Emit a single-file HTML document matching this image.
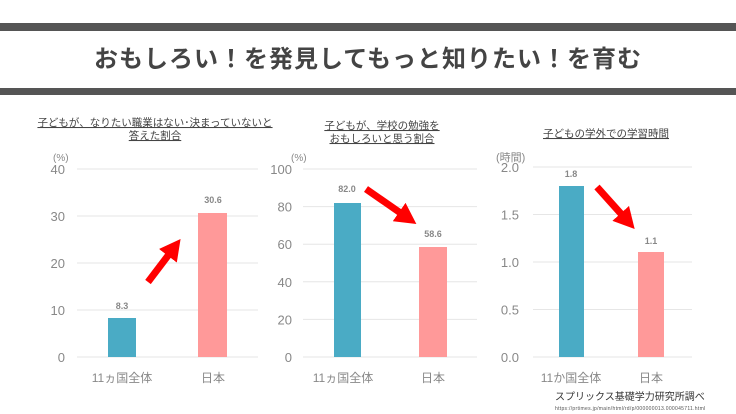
<!DOCTYPE html>
<html><head><meta charset="utf-8"><style>
html,body{margin:0;padding:0;background:#fff}
svg{display:block}
text{font-family:"Liberation Sans","Noto Sans CJK JP",sans-serif}
</style></head><body>
<svg width="736" height="414" viewBox="0 0 736 414" xmlns="http://www.w3.org/2000/svg">
<defs>
<marker id="ah" markerWidth="3" markerHeight="3.2" refX="0.5" refY="1.6" orient="auto" markerUnits="strokeWidth">
<path d="M0,0 L3,1.6 L0,3.2 Z" fill="#f00"/>
</marker>
</defs>
<rect x="0" y="23" width="736" height="8" fill="#555"/>
<rect x="0" y="88" width="736" height="7" fill="#555"/>
<text x="368" y="67" text-anchor="middle" font-size="24" font-weight="bold" fill="#444" letter-spacing="1">おもしろい！を発見してもっと知りたい！を育む</text>

<g font-size="13" fill="#888">
<!-- chart 1 -->
<g stroke="#e6e6e6" stroke-width="1">
<line x1="77" x2="258" y1="169" y2="169"/><line x1="77" x2="258" y1="216" y2="216"/><line x1="77" x2="258" y1="263" y2="263"/><line x1="77" x2="258" y1="310" y2="310"/><line x1="77" x2="258" y1="357" y2="357"/>
</g>
<g text-anchor="end"><text x="65" y="174">40</text><text x="65" y="221">30</text><text x="65" y="268">20</text><text x="65" y="315">10</text><text x="65" y="362">0</text></g>
<text x="53" y="161" font-size="10">(%)</text>
<rect x="108" y="318" width="28" height="39" fill="#4aabc5"/>
<rect x="198" y="213" width="29" height="144" fill="#ff9999"/>
<text x="122" y="309" font-size="9" text-anchor="middle" font-weight="bold">8.3</text>
<text x="213" y="203" font-size="9" text-anchor="middle" font-weight="bold">30.6</text>
<text x="122" y="382" text-anchor="middle" font-size="12">11ヵ国全体</text>
<text x="213" y="382" text-anchor="middle" font-size="12">日本</text>
<text x="155" y="126" text-anchor="middle" font-size="10.5" fill="#444" text-decoration="underline">子どもが、なりたい職業はない･決まっていないと</text>
<text x="155" y="139" text-anchor="middle" font-size="10.5" fill="#444" text-decoration="underline">答えた割合</text>
<line x1="148" y1="282" x2="170" y2="253" stroke="#f00" stroke-width="7" marker-end="url(#ah)"/>

<!-- chart 2 -->
<g stroke="#e6e6e6" stroke-width="1">
<line x1="303" x2="477" y1="169" y2="169"/><line x1="303" x2="477" y1="206.6" y2="206.6"/><line x1="303" x2="477" y1="244.2" y2="244.2"/><line x1="303" x2="477" y1="281.8" y2="281.8"/><line x1="303" x2="477" y1="319.4" y2="319.4"/><line x1="303" x2="477" y1="357" y2="357"/>
</g>
<g text-anchor="end"><text x="292" y="174">100</text><text x="292" y="211.6">80</text><text x="292" y="249.2">60</text><text x="292" y="286.8">40</text><text x="292" y="324.4">20</text><text x="292" y="362">0</text></g>
<text x="291" y="161" font-size="10">(%)</text>
<rect x="334" y="203" width="27" height="154" fill="#4aabc5"/>
<rect x="419" y="247" width="28" height="110" fill="#ff9999"/>
<text x="347" y="192" font-size="9" text-anchor="middle" font-weight="bold">82.0</text>
<text x="433" y="237" font-size="9" text-anchor="middle" font-weight="bold">58.6</text>
<text x="343" y="382" text-anchor="middle" font-size="12">11ヵ国全体</text>
<text x="433" y="382" text-anchor="middle" font-size="12">日本</text>
<text x="382" y="129" text-anchor="middle" font-size="10.5" fill="#444" text-decoration="underline">子どもが、学校の勉強を</text>
<text x="382" y="142" text-anchor="middle" font-size="10.5" fill="#444" text-decoration="underline">おもしろいと思う割合</text>
<line x1="366" y1="189" x2="402" y2="214" stroke="#f00" stroke-width="7" marker-end="url(#ah)"/>

<!-- chart 3 -->
<g stroke="#e6e6e6" stroke-width="1">
<line x1="533" x2="692" y1="167" y2="167"/><line x1="533" x2="692" y1="214.5" y2="214.5"/><line x1="533" x2="692" y1="262" y2="262"/><line x1="533" x2="692" y1="309.5" y2="309.5"/><line x1="533" x2="692" y1="357" y2="357"/>
</g>
<g text-anchor="end"><text x="519" y="172">2.0</text><text x="519" y="219.5">1.5</text><text x="519" y="267">1.0</text><text x="519" y="314.5">0.5</text><text x="519" y="362">0.0</text></g>
<text x="496" y="161" font-size="11">(時間)</text>
<rect x="559" y="186" width="25" height="171" fill="#4aabc5"/>
<rect x="638" y="252" width="26" height="105" fill="#ff9999"/>
<text x="571" y="177" font-size="9" text-anchor="middle" font-weight="bold">1.8</text>
<text x="651" y="244" font-size="9" text-anchor="middle" font-weight="bold">1.1</text>
<text x="571" y="382" text-anchor="middle" font-size="12">11か国全体</text>
<text x="651" y="382" text-anchor="middle" font-size="12">日本</text>
<text x="606" y="137" text-anchor="middle" font-size="10.5" fill="#444" text-decoration="underline">子どもの学外での学習時間</text>
<line x1="597" y1="187" x2="623" y2="216" stroke="#f00" stroke-width="7" marker-end="url(#ah)"/>
</g>

<text x="555" y="400" font-size="10" fill="#333">スプリックス基礎学力研究所調べ</text>
<text x="555" y="410" font-size="5" fill="#555" letter-spacing="0.3">https://prtimes.jp/main/html/rd/p/000000013.000045711.html</text>
</svg>
</body></html>
